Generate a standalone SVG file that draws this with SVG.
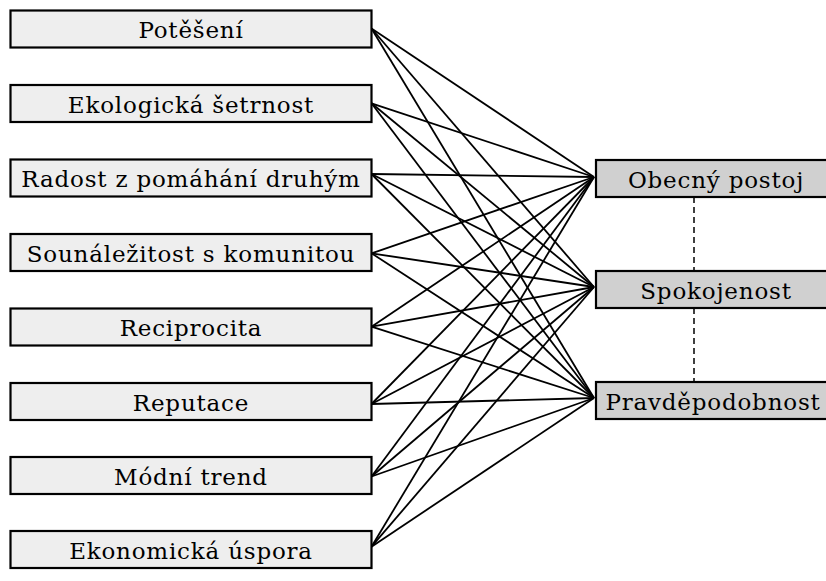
<svg xmlns="http://www.w3.org/2000/svg" width="826" height="581" viewBox="0 0 826 581">
<style>
.bg{fill:#ffffff}
.lbox{fill:#eeeeee;stroke:#000;stroke-width:2.2}
.rbox{fill:#d0d0d0;stroke:#000;stroke-width:2.2}
.t{font-family:"DejaVu Serif","Liberation Serif",serif;font-size:23px;letter-spacing:0.8px;fill:#000;text-anchor:middle}
.c{stroke:#000;stroke-width:1.8;fill:none}
.d{stroke:#000;stroke-width:1.5;stroke-dasharray:6,4;fill:none}
</style>
<rect class="bg" x="0" y="0" width="826" height="581"/>
<g id="connectors">
<line class="c" x1="371.5" y1="28.5" x2="594" y2="177"/>
<line class="c" x1="371.5" y1="28.5" x2="594" y2="287"/>
<line class="c" x1="371.5" y1="28.5" x2="594" y2="398"/>
<line class="c" x1="371.5" y1="103.3" x2="594" y2="177"/>
<line class="c" x1="371.5" y1="103.3" x2="594" y2="287"/>
<line class="c" x1="371.5" y1="103.3" x2="594" y2="398"/>
<line class="c" x1="371.5" y1="174" x2="594" y2="177"/>
<line class="c" x1="371.5" y1="174" x2="594" y2="287"/>
<line class="c" x1="371.5" y1="174" x2="594" y2="398"/>
<line class="c" x1="371.5" y1="253.3" x2="594" y2="177"/>
<line class="c" x1="371.5" y1="253.3" x2="594" y2="287"/>
<line class="c" x1="371.5" y1="253.3" x2="594" y2="398"/>
<line class="c" x1="371.5" y1="326.7" x2="594" y2="177"/>
<line class="c" x1="371.5" y1="326.7" x2="594" y2="287"/>
<line class="c" x1="371.5" y1="326.7" x2="594" y2="398"/>
<line class="c" x1="371.5" y1="404" x2="594" y2="177"/>
<line class="c" x1="371.5" y1="404" x2="594" y2="287"/>
<line class="c" x1="371.5" y1="404" x2="594" y2="398"/>
<line class="c" x1="371.5" y1="476.5" x2="594" y2="177"/>
<line class="c" x1="371.5" y1="476.5" x2="594" y2="287"/>
<line class="c" x1="371.5" y1="476.5" x2="594" y2="398"/>
<line class="c" x1="371.5" y1="546.7" x2="594" y2="177"/>
<line class="c" x1="371.5" y1="546.7" x2="594" y2="287"/>
<line class="c" x1="371.5" y1="546.7" x2="594" y2="398"/>
<line class="d" x1="694" y1="197" x2="694" y2="271"/>
<line class="d" x1="694" y1="308" x2="694" y2="382"/>
</g>
<g id="n-potaseni"><rect class="lbox" x="10.5" y="10.5" width="361" height="37"/><text class="t" x="191" y="38">Potěšení</text></g>
<g id="n-ekologicka"><rect class="lbox" x="10.5" y="85" width="361" height="37"/><text class="t" x="191" y="112.5">Ekologická šetrnost</text></g>
<g id="n-radost"><rect class="lbox" x="10.5" y="159.5" width="361" height="37"/><text class="t" x="191" y="187">Radost z pomáhání druhým</text></g>
<g id="n-sounalezitost"><rect class="lbox" x="10.5" y="234" width="361" height="37"/><text class="t" x="191" y="261.5">Sounáležitost s komunitou</text></g>
<g id="n-reciprocita"><rect class="lbox" x="10.5" y="308.5" width="361" height="37"/><text class="t" x="191" y="336">Reciprocita</text></g>
<g id="n-reputace"><rect class="lbox" x="10.5" y="383" width="361" height="37"/><text class="t" x="191" y="410.5">Reputace</text></g>
<g id="n-modni"><rect class="lbox" x="10.5" y="457" width="361" height="37"/><text class="t" x="191" y="484.5">Módní trend</text></g>
<g id="n-ekonomicka"><rect class="lbox" x="10.5" y="531" width="361" height="37"/><text class="t" x="191" y="558.5">Ekonomická úspora</text></g>
<g id="n-obecny"><rect class="rbox" x="596" y="160" width="240" height="37"/><text class="t" x="716" y="187.5">Obecný postoj</text></g>
<g id="n-spokojenost"><rect class="rbox" x="596" y="271" width="240" height="37"/><text class="t" x="716" y="298.5">Spokojenost</text></g>
<g id="n-pravdepodobnost"><rect class="rbox" x="596" y="382" width="240" height="37"/><text class="t" x="713" y="409.5">Pravděpodobnost</text></g>
</svg>
